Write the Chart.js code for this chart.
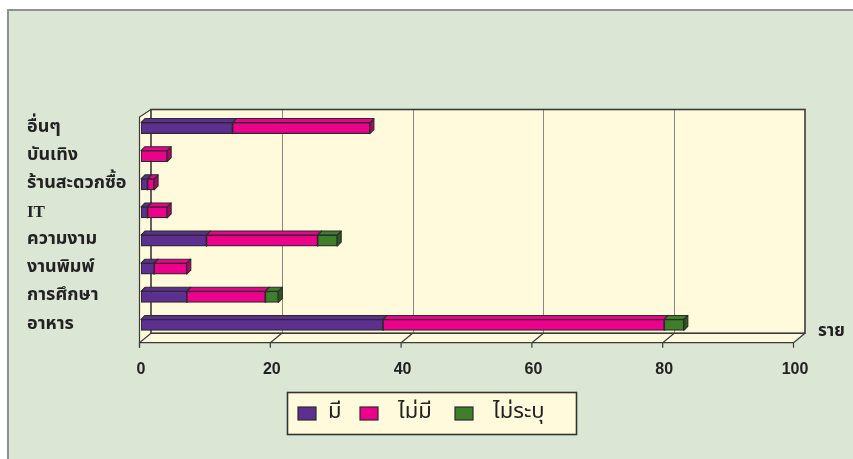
<!DOCTYPE html>
<html>
<head>
<meta charset="utf-8">
<script src="https://cdn.jsdelivr.net/npm/chart.js@4.4.0/dist/chart.umd.min.js"></script>
<style>
  html, body { margin: 0; padding: 0; background: #ffffff; }
  canvas { display: block; }
</style>
</head>
<body>
<canvas id="c" width="853" height="459"></canvas>
<script>
// Business categories, listed top to bottom
const categories = ['อื่นๆ', 'บันเทิง', 'ร้านสะดวกซื้อ', 'IT', 'ความงาม', 'งานพิมพ์', 'การศึกษา', 'อาหาร'];
const seriesNames = ['มี', 'ไม่มี', 'ไม่ระบุ'];
const haveValues = [14, 0, 1, 1, 10, 2, 7, 37];
const notHaveValues = [21, 4, 1, 3, 17, 5, 12, 43];
const unspecifiedValues = [0, 0, 0, 0, 3, 0, 2, 3];
const valueTicks = [0, 20, 40, 60, 80, 100];
const unitLabel = 'ราย';

const faceColors = ['#5c2f91', '#ec008c', '#3f7e2b'];
const sideColors = ['#43206c', '#b0006a', '#2b5a1d'];
const OUTLINE = '#2b2b2b';
const CREAM = '#fffadb';
const PANEL = '#dce6d4';
const THAI = '"Noto Sans Thai","Noto Sans Thai UI","Tahoma","Loma","Garuda","Noto Sans","DejaVu Sans",sans-serif';

// depth of the bars and of the plot box
const BAR_DX = 4, BAR_DY = -4;
const BOX_DX = 11.5, BOX_DY = -9.5;

const seriesValues = [haveValues, notHaveValues, unspecifiedValues];

function poly(ctx, pts, fill, stroke, lw) {
  ctx.beginPath();
  ctx.moveTo(pts[0][0], pts[0][1]);
  for (let i = 1; i < pts.length; i++) ctx.lineTo(pts[i][0], pts[i][1]);
  ctx.closePath();
  if (fill) { ctx.fillStyle = fill; ctx.fill(); }
  if (stroke) { ctx.strokeStyle = stroke; ctx.lineWidth = lw || 1; ctx.stroke(); }
}

const boxPlugin = {
  id: 'box3d',
  beforeDraw(chart) {
    const ctx = chart.ctx;
    const { left, right, top, bottom } = chart.chartArea;
    const xs = chart.scales.x;
    ctx.save();
    // page and panel
    ctx.fillStyle = '#ffffff';
    ctx.fillRect(0, 0, chart.width, chart.height);
    ctx.fillStyle = '#8f9090';
    ctx.fillRect(7, 9, chart.width - 7, chart.height - 9);
    ctx.fillStyle = PANEL;
    ctx.fillRect(9, 11, chart.width - 9, chart.height - 11);

    const fx = v => xs.getPixelForValue(v) - 1.5;   // front edge
    const floorY = bottom + 3.7;
    const wallL = fx(0) + BOX_DX, wallR = fx(100) + BOX_DX;
    const wallT = top - 4.5, wallB = floorY + BOX_DY;

    // left wall and floor
    poly(ctx, [[fx(0), top + 3], [wallL, wallT], [wallL, wallB], [fx(0), floorY]], CREAM);
    poly(ctx, [[fx(0), floorY], [fx(100), floorY], [wallR, wallB], [wallL, wallB]], CREAM);

    // back wall
    ctx.fillStyle = CREAM;
    ctx.fillRect(wallL, wallT, wallR - wallL, wallB - wallT);
    ctx.strokeStyle = '#8a8a82';
    ctx.lineWidth = 1;
    valueTicks.forEach(v => {
      if (v === 0 || v === 100) return;
      const gx = Math.round(fx(v) + BOX_DX) + 0.5;
      ctx.beginPath(); ctx.moveTo(gx, wallT); ctx.lineTo(gx, wallB); ctx.stroke();
    });
    ctx.strokeStyle = '#3a3a3a';
    ctx.lineWidth = 1.6;
    ctx.strokeRect(wallL, wallT, wallR - wallL, wallB - wallT);

    // floor edges and ticks
    ctx.lineWidth = 1.2;
    ctx.strokeStyle = '#3a3a3a';
    ctx.beginPath(); ctx.moveTo(fx(0), floorY); ctx.lineTo(fx(100), floorY); ctx.stroke();
    valueTicks.forEach(v => {
      ctx.beginPath();
      ctx.moveTo(fx(v), floorY + 5);
      ctx.lineTo(fx(v), floorY);
      ctx.lineTo(fx(v) + BOX_DX, wallB);
      ctx.stroke();
    });
    // front value axis edge of left wall
    ctx.beginPath();
    ctx.moveTo(wallL, wallT);
    ctx.lineTo(fx(0), top + 3);
    ctx.lineTo(fx(0), floorY + 5);
    ctx.stroke();
    ctx.restore();
  },
  beforeDatasetsDraw(chart) {
    // top and end faces of every bar segment; front faces are drawn by the bar controller
    const ctx = chart.ctx;
    ctx.save();
    ctx.lineJoin = 'round';
    const n = chart.data.labels.length;
    for (let i = 0; i < n; i++) {
      chart.data.datasets.forEach((ds, di) => {
        const el = chart.getDatasetMeta(di).data[i];
        if (!el || ds.data[i] == null) return;
        const p = el.getProps(['x', 'y', 'base', 'height'], true);
        const x0 = Math.min(p.base, p.x), x1 = Math.max(p.base, p.x);
        const t = p.y - p.height / 2, b = p.y + p.height / 2;
        poly(ctx, [[x1, t], [x1 + BAR_DX, t + BAR_DY], [x1 + BAR_DX, b + BAR_DY], [x1, b]], ds.sideColor, OUTLINE, 1.1);
        poly(ctx, [[x0, t], [x0 + BAR_DX, t + BAR_DY], [x1 + BAR_DX, t + BAR_DY], [x1, t]], ds.backgroundColor, OUTLINE, 1.1);
      });
    }
    ctx.restore();
  },
  afterDraw(chart) {
    const ctx = chart.ctx;
    const { right, bottom } = chart.chartArea;
    ctx.save();
    // unit of the value axis
    ctx.fillStyle = '#222';
    ctx.font = 'bold 17px ' + THAI;
    ctx.textBaseline = 'middle';
    ctx.textAlign = 'left';
    ctx.fillText(unitLabel, right + 23, bottom - 6);

    // legend
    const lx = 287.5, ly = 392.5, lw = 289, lh = 42;
    ctx.fillStyle = CREAM;
    ctx.fillRect(lx, ly, lw, lh);
    ctx.strokeStyle = '#333';
    ctx.lineWidth = 1.6;
    ctx.strokeRect(lx, ly, lw, lh);
    const swatchX = [298, 360, 455];
    const textX = [328, 398, 493];
    ctx.font = '22px ' + THAI;
    chart.data.datasets.forEach((ds, i) => {
      ctx.fillStyle = ds.backgroundColor;
      ctx.fillRect(swatchX[i], 407, 18, 13);
      ctx.strokeStyle = OUTLINE;
      ctx.lineWidth = 1.2;
      ctx.strokeRect(swatchX[i], 407, 18, 13);
      ctx.fillStyle = '#222';
      ctx.fillText(ds.label, textX[i], 414);
    });
    ctx.restore();
  }
};

new Chart(document.getElementById('c'), {
  type: 'bar',
  data: {
    labels: categories,
    datasets: seriesValues.map((vals, i) => ({
      label: seriesNames[i],
      data: vals.map(v => (v === 0 ? null : v)),
      backgroundColor: faceColors[i],
      sideColor: sideColors[i],
      borderColor: OUTLINE,
      borderWidth: 1.2,
      borderSkipped: false,
      barThickness: 11
    }))
  },
  options: {
    responsive: false,
    animation: false,
    indexAxis: 'y',
    layout: { padding: { left: 27, top: 114, right: 58, bottom: 0 } },
    plugins: { legend: { display: false }, tooltip: { enabled: false } },
    scales: {
      x: {
        stacked: true,
        min: 0,
        max: 100,
        afterBuildTicks: s => { s.ticks = valueTicks.map(v => ({ value: v })); },
        afterFit: s => { s.height = 120; },
        grid: { display: false, drawTicks: false },
        border: { display: false },
        ticks: {
          color: '#222',
          padding: 21,
          maxRotation: 0,
          font: { family: '"Liberation Sans", Arial, sans-serif', size: 16, weight: 'bold' }
        }
      },
      y: {
        stacked: true,
        afterFit: s => { s.width = 114; },
        grid: { display: false, drawTicks: false },
        border: { display: false },
        ticks: {
          color: '#222',
          padding: 0,
          crossAlign: 'far',
          font: ctx => (ctx.tick && ctx.tick.label === 'IT')
            ? { family: '"Liberation Serif", serif', size: 17, weight: 'bold' }
            : { family: THAI, size: 18, weight: 'bold' }
        }
      }
    }
  },
  plugins: [boxPlugin]
});
</script>
</body>
</html>
